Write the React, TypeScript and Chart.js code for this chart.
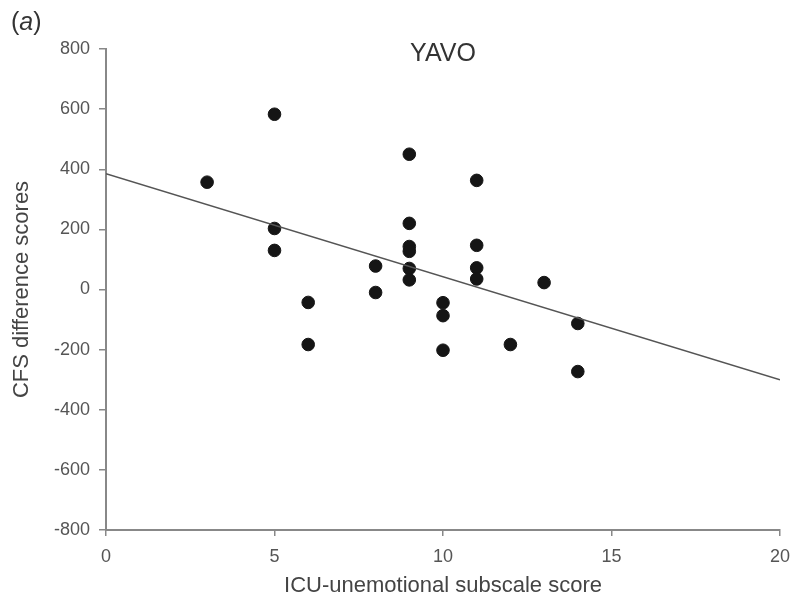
import React, { useEffect, useRef } from "react";
import { Chart, registerables } from "chart.js";

Chart.register(...registerables);

const xScores = [3, 5, 5, 5, 6, 6, 8, 8, 9, 9, 9, 9, 9, 9, 10, 10, 10, 11, 11, 11, 11, 12, 13, 14, 14];
const cfsScores = [357, 583, 203, 130, -43, -183, 78, -10, 450, 220, 143, 127, 70, 32, -44, -87, -202, 363, 147, 72, 35, -183, 23, -113, -273];
const fitX = [0, 20];
const fitY = [385, -300];
const xTicks = [0, 5, 10, 15, 20];
const yTicks = [-800, -600, -400, -200, 0, 200, 400, 600, 800];

const FONT = "'Liberation Sans', Arial, sans-serif";

const labelsPlugin = {
  id: "labelsPlugin",
  afterDraw(chart: any) {
    const { ctx, chartArea } = chart;
    ctx.save();
    ctx.fillStyle = "#333";
    ctx.textBaseline = "middle";
    ctx.textAlign = "center";
    ctx.font = `25px ${FONT}`;
    ctx.fillText("YAVO", (chartArea.left + chartArea.right) / 2, 54);
    ctx.textAlign = "left";
    const x0 = 11;
    const y0 = 23;
    ctx.font = `25px ${FONT}`;
    ctx.fillText("(", x0, y0);
    const w1 = ctx.measureText("(").width;
    ctx.font = `italic 25px ${FONT}`;
    ctx.fillText("a", x0 + w1, y0);
    const w2 = ctx.measureText("a").width;
    ctx.font = `25px ${FONT}`;
    ctx.fillText(")", x0 + w1 + w2, y0);
    ctx.restore();
  },
};

export default function App() {
  const ref = useRef<HTMLCanvasElement>(null);
  useEffect(() => {
    if (!ref.current) return;
    const points = xScores.map((x, i) => ({ x, y: cfsScores[i] }));
    const fit = fitX.map((x, i) => ({ x, y: fitY[i] }));
    const chart = new Chart(ref.current, {
      type: "scatter",
      data: {
        datasets: [
          {
            type: "line",
            data: fit,
            borderColor: "#555",
            borderWidth: 1.5,
            pointRadius: 0,
            fill: false,
          } as any,
          {
            data: points,
            backgroundColor: "#151515",
            borderColor: "#151515",
            pointRadius: 6.3,
            pointHoverRadius: 6.3,
          },
        ],
      },
      options: {
        animation: false,
        responsive: false,
        layout: { padding: { top: 49, right: 12, left: 0, bottom: 0 } },
        plugins: { legend: { display: false }, tooltip: { enabled: false }, title: { display: false } },
        scales: {
          x: {
            type: "linear",
            min: 0,
            max: 20,
            afterBuildTicks: (s: any) => { s.ticks = xTicks.map((v) => ({ value: v })); },
            afterFit: (s: any) => { s.height = 73; s.paddingLeft = 0; s.paddingRight = 0; },
            border: { display: true, color: "#888", width: 2 },
            grid: { display: true, drawOnChartArea: false, drawTicks: true, tickLength: 6, color: "#888", lineWidth: 1.5 },
            ticks: { color: "#555", font: { family: FONT, size: 18 }, padding: 10 },
            title: { display: true, text: "ICU-unemotional subscale score", color: "#444", font: { family: FONT, size: 22 }, padding: { top: 0, bottom: 4 } },
          },
          y: {
            type: "linear",
            min: -800,
            max: 800,
            afterBuildTicks: (s: any) => { s.ticks = yTicks.map((v) => ({ value: v })); },
            afterFit: (s: any) => { s.width = 106; },
            border: { display: true, color: "#888", width: 2 },
            grid: { display: true, drawOnChartArea: false, drawTicks: true, tickLength: 7, color: "#888", lineWidth: 1.5 },
            ticks: { color: "#555", font: { family: FONT, size: 18 }, padding: 9 },
            title: { display: true, text: "CFS difference scores", color: "#444", font: { family: FONT, size: 22 }, padding: { top: 9, bottom: 0 } },
          },
        },
      },
      plugins: [labelsPlugin],
    });
    return () => chart.destroy();
  }, []);
  return (
    <div style={{ position: "absolute", left: 0, top: 0, width: 792, height: 603, background: "#fff" }}>
      <canvas ref={ref} width={792} height={603} />
    </div>
  );
}
